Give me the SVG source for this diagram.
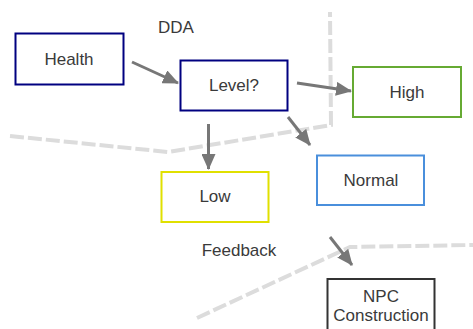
<svg xmlns="http://www.w3.org/2000/svg" width="473" height="329" viewBox="0 0 473 329">
  <style>
    .box { fill: #ffffff; stroke-width: 2; }
    .lbl { font-family: "Liberation Sans", Arial, sans-serif; font-size: 17px; fill: #3a3a3a; text-anchor: middle; }
    .zone { fill: none; stroke: #dcdcdc; stroke-width: 4; stroke-dasharray: 14 4; }
    .edge { fill: none; stroke: #777777; stroke-width: 3; }
  </style>
  <defs>
    <marker id="head" viewBox="0 0 16 14" refX="15" refY="7" markerWidth="16" markerHeight="14" markerUnits="userSpaceOnUse" orient="auto">
      <path d="M0,0 L16,7 L0,14 Z" fill="#777777"/>
    </marker>
  </defs>

  <!-- dashed zone boundaries -->
  <g id="zones">
    <polyline class="zone" points="10,136 168,152 331,125 330,12"/>
    <polyline class="zone" points="197,318 350,247 473,245"/>
  </g>

  <!-- free labels -->
  <text class="lbl" x="176" y="33">DDA</text>
  <text class="lbl" x="239" y="256">Feedback</text>

  <g id="health">
    <rect class="box" x="15.5" y="33.5" width="108" height="51" stroke="#000080"/>
    <text class="lbl" x="69" y="65">Health</text>
  </g>
  <g id="level">
    <rect class="box" x="180.5" y="60.5" width="107" height="50" stroke="#000080"/>
    <text class="lbl" x="234" y="91">Level?</text>
  </g>
  <g id="high">
    <rect class="box" x="353" y="67" width="108" height="50" stroke="#66aa33"/>
    <text class="lbl" x="407" y="98">High</text>
  </g>
  <g id="normal">
    <rect class="box" x="317" y="155.5" width="107" height="49.5" stroke="#4a8fdc"/>
    <text class="lbl" x="371" y="186">Normal</text>
  </g>
  <g id="low">
    <rect class="box" x="161.5" y="172" width="107" height="50" stroke="#e0e000"/>
    <text class="lbl" x="215" y="202">Low</text>
  </g>
  <g id="npc">
    <rect class="box" x="327.5" y="279" width="107" height="60" stroke="#333333"/>
    <text class="lbl" x="381" y="302">NPC</text>
    <text class="lbl" x="381" y="321">Construction</text>
  </g>

  <!-- connectors -->
  <g id="edges">
    <line class="edge" x1="132" y1="62" x2="178" y2="83" marker-end="url(#head)"/>
    <line class="edge" x1="297" y1="83" x2="351" y2="91" marker-end="url(#head)"/>
    <line class="edge" x1="208.5" y1="124" x2="208.5" y2="169" marker-end="url(#head)"/>
    <line class="edge" x1="288" y1="117" x2="310" y2="145" marker-end="url(#head)"/>
    <line class="edge" x1="330" y1="237" x2="352" y2="265" marker-end="url(#head)"/>
  </g>
</svg>
